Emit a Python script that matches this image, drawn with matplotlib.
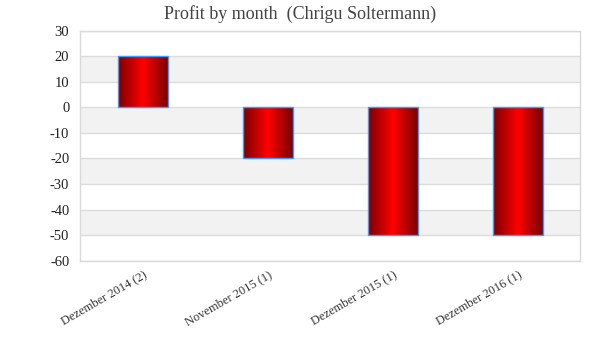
import numpy as np
import matplotlib
matplotlib.use("Agg")
import matplotlib.pyplot as plt
from matplotlib.colors import LinearSegmentedColormap

# Daten
monate = ["Dezember 2014 (2)", "November 2015 (1)", "Dezember 2015 (1)", "Dezember 2016 (1)"]
gewinn = [20, -20, -50, -50]
y_ticks = [30, 20, 10, 0, -10, -20, -30, -40, -50, -60]

plt.rcParams['font.family'] = ['Liberation Serif', 'DejaVu Serif']

fig = plt.figure(figsize=(6, 3.6), dpi=100)
ax = fig.add_axes([0.134, 0.276, 0.833, 0.639])

# abwechselnde Streifen
for unten in range(-60, 30, 10):
    if (unten // 10) % 2 != 0:
        ax.axhspan(unten, unten + 10, color="#f2f2f2", zorder=0, lw=0)
for t in y_ticks:
    ax.axhline(t, color="#dcdcdc", lw=1, zorder=1)

x = np.arange(len(monate))
balken = ax.bar(x, gewinn, width=0.4, color="none", edgecolor="#3f9cff",
                linewidth=1.0, zorder=4)

# Verlauf dunkelrot -> rot -> dunkelrot
cmap = LinearSegmentedColormap.from_list("rot", ["#7a0000", "#ff0000", "#7a0000"])
verlauf = np.linspace(0, 1, 256).reshape(1, -1)
for b in balken:
    x0, y0 = b.get_x(), b.get_y()
    w, h = b.get_width(), b.get_height()
    im = ax.imshow(verlauf, cmap=cmap, aspect="auto", zorder=3,
                   extent=[x0, x0 + w, min(y0, y0 + h), max(y0, y0 + h)])
    im.set_clip_path(b)

ax.set_xlim(-0.5, len(monate) - 0.5)
ax.set_ylim(-60, 30)

ax.set_yticks(y_ticks)
ax.set_yticklabels([str(t) for t in y_ticks], fontsize=10.5, color="#222222")
ax.set_xticks(x)
ax.set_xticklabels(monate, rotation=30, ha="right", rotation_mode="anchor",
                   fontsize=9, color="#333333")
ax.tick_params(length=0, pad=8)
ax.tick_params(axis="x", pad=6)

for s in ax.spines.values():
    s.set_color("#d9d9d9")
    s.set_linewidth(1)

fig.suptitle("Profit by month  (Chrigu Soltermann)", fontsize=13,
             color="#444444", y=0.985)

fig.savefig("out.png", dpi=100)
